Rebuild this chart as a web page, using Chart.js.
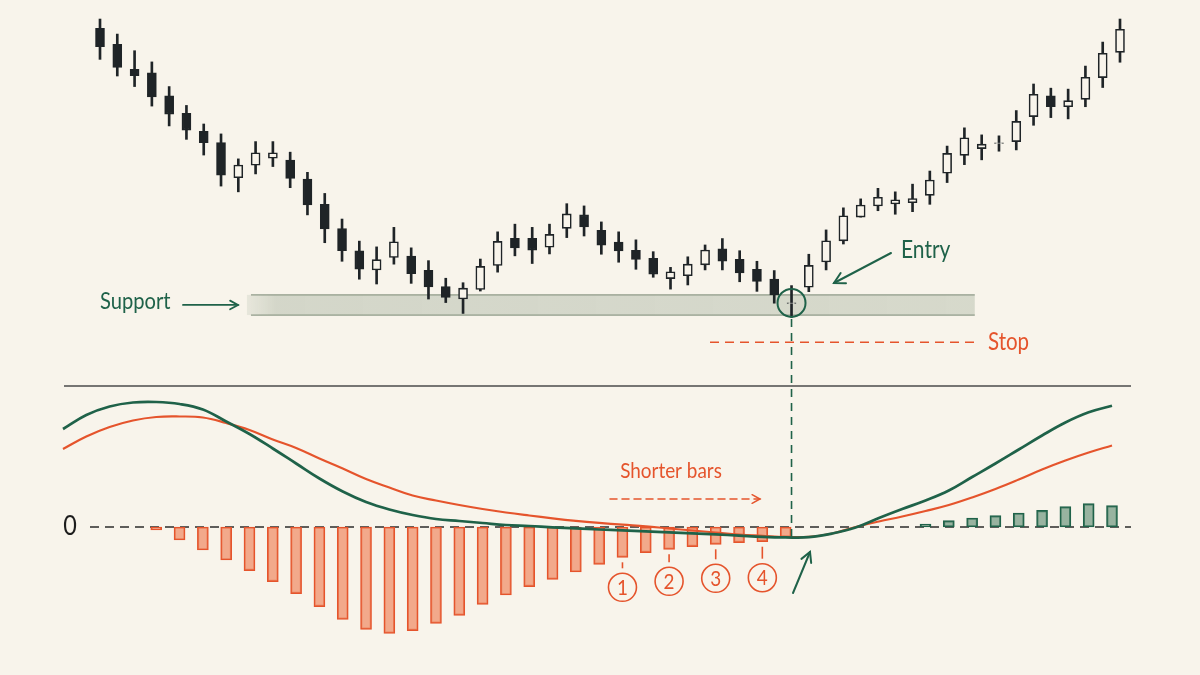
<!DOCTYPE html>
<html>
<head>
<meta charset="utf-8">
<title>Support bounce with MACD divergence</title>
<script src="https://cdn.jsdelivr.net/npm/chart.js@4.4.1/dist/chart.umd.min.js"></script>
<style>
  html, body { margin: 0; padding: 0; background: #f8f4eb; }
  #wrap { position: relative; width: 1200px; height: 675px; overflow: hidden; }
  canvas { position: absolute; left: 0; top: 0; }
</style>
</head>
<body>
<div id="wrap">
  <canvas id="macdChart" width="1200" height="675"></canvas>
  <canvas id="priceChart" width="1200" height="675"></canvas>
</div>
<script>
// Price candles (arbitrary price units 0-100)
const candleOpen = [97.4, 92.4, 84.6, 83.5, 76.3, 70.8, 65.2, 61.7, 50.7, 54.6,
  56.8, 56.2, 50.3, 42.4, 34.8, 27.9, 21.9, 25.8, 26.2, 21.8,
  16.7, 12.8, 15.8, 23.3, 31.8, 31.8, 29.0, 34.9, 39.1, 34.3,
  30.6, 28.0, 25.5, 19.2, 20.1, 23.5, 28.5, 25.2, 22.1, 19.0,
  11.4, 16.5, 24.4, 31.0, 38.4, 41.9, 42.5, 42.9, 45.2, 52.1,
  57.7, 59.8, 61.4, 62.0, 69.8, 76.3, 72.9, 75.2, 82.0, 89.9];
const candleHigh = [100.3, 95.6, 90.4, 86.9, 79.2, 73.3, 67.5, 64.4, 56.6, 62.0,
  62.0, 58.7, 52.4, 45.8, 37.8, 30.9, 29.1, 35.2, 28.8, 24.8,
  19.3, 17.9, 25.3, 33.8, 36.2, 35.2, 36.2, 42.6, 41.9, 36.9,
  33.8, 31.3, 27.6, 22.7, 26.0, 29.7, 31.7, 27.9, 24.6, 21.7,
  17.0, 26.8, 34.4, 41.3, 44.1, 47.4, 46.3, 48.7, 52.8, 60.6,
  66.3, 64.1, 63.8, 71.7, 80.0, 78.7, 78.4, 85.6, 93.1, 100.3];
const candleLow = [87.7, 82.5, 79.2, 73.1, 66.9, 62.7, 57.8, 48.1, 46.3, 51.9,
  54.2, 47.6, 39.1, 30.4, 24.6, 19.0, 17.5, 23.7, 17.7, 12.8,
  11.7, 8.3, 15.3, 21.2, 26.3, 23.9, 26.9, 32.0, 32.5, 26.8,
  24.3, 22.1, 19.6, 15.9, 17.2, 21.9, 21.9, 18.2, 15.2, 11.5,
  7.1, 15.1, 21.9, 30.0, 38.4, 40.4, 39.3, 40.1, 42.4, 49.2,
  54.8, 56.3, 59.0, 59.4, 67.1, 69.5, 69.1, 72.9, 78.9, 86.8];
const candleClose = [91.7, 85.2, 82.6, 76.0, 70.6, 65.6, 61.7, 51.5, 54.7, 58.5,
  58.5, 50.5, 42.2, 34.7, 27.9, 22.1, 25.1, 30.7, 20.7, 16.6,
  13.3, 16.2, 23.0, 30.8, 28.8, 28.1, 33.0, 39.4, 35.3, 29.6,
  27.8, 25.2, 20.6, 21.3, 23.7, 28.1, 24.6, 21.0, 18.3, 14.1,
  11.6, 23.3, 31.0, 38.8, 42.2, 44.6, 43.8, 44.2, 50.0, 58.3,
  63.2, 61.2, 61.6, 68.3, 76.8, 72.9, 74.8, 82.1, 89.6, 97.1];
const candleLabels = candleOpen.map((_, i) => "Day " + (i + 1));

const supportTop = 14.1;     // upper edge of the support zone
const supportBottom = 7.8;   // lower edge of the support zone
const stopLevel = -0.7;      // stop-loss line just under support
const entryIndex = 40;       // the doji that touches support

// MACD panel, one slot per histogram bar (slots -4..-1 only carry the lines)
const macdSlots = [-4, -3, -2, -1, 0, 1, 2, 3, 4, 5, 6, 7, 8, 9, 10, 11, 12, 13, 14, 15,
  16, 17, 18, 19, 20, 21, 22, 23, 24, 25, 26, 27, 28, 29, 30, 31, 32, 33, 34, 35,
  36, 37, 38, 39, 40, 41];
const macdLine = [0.98, 1.12, 1.205, 1.245, 1.25, 1.23, 1.175, 1.055, 0.93, 0.785,
  0.635, 0.485, 0.355, 0.25, 0.175, 0.12, 0.08, 0.06, 0.04, 0.02,
  0.01, -0.003, -0.014, -0.025, -0.033, -0.043, -0.053, -0.064, -0.074, -0.086,
  -0.098, -0.104, -0.102, -0.065, -0.005, 0.09, 0.18, 0.265, 0.365, 0.5,
  0.635, 0.775, 0.915, 1.045, 1.147, 1.212];
const signalLine = [0.78, 0.905, 1.0, 1.065, 1.1, 1.105, 1.095, 1.04, 0.97, 0.875,
  0.79, 0.685, 0.585, 0.48, 0.395, 0.315, 0.265, 0.22, 0.18, 0.145,
  0.115, 0.087, 0.062, 0.041, 0.023, 0.007, -0.015, -0.035, -0.055, -0.075,
  -0.088, -0.1, -0.098, -0.065, 0.0, 0.055, 0.105, 0.16, 0.22, 0.295,
  0.38, 0.475, 0.575, 0.665, 0.745, 0.815];
const histogram = [null, null, null, null, -0.03, -0.13, -0.23, -0.33, -0.437, -0.547,
  -0.667, -0.797, -0.923, -1.023, -1.063, -1.037, -0.963, -0.883, -0.773, -0.68,
  -0.597, -0.523, -0.45, -0.373, -0.303, -0.257, -0.223, -0.197, -0.173, -0.157,
  -0.147, -0.1, null, null, null, null, null, 0.03, 0.063, 0.09,
  0.113, 0.14, 0.167, 0.203, 0.233, 0.213];
const markedSlots = [20, 22, 24, 26]; // the four shrinking bars called out

const GREEN = "#1f6249";
const ORANGE = "#e5542c";
const INK = "#1f2427";
const PAPER = "#f8f4eb";
const FONT = "Lato, 'Open Sans', sans-serif";

// little helpers for the hand-drawn notes
function arrow(ctx, x1, y1, x2, y2, color, width, head, dash) {
  const a = Math.atan2(y2 - y1, x2 - x1);
  ctx.save();
  ctx.strokeStyle = color;
  ctx.lineWidth = width;
  ctx.lineCap = "round";
  ctx.setLineDash(dash || []);
  ctx.beginPath();
  ctx.moveTo(x1, y1);
  ctx.lineTo(x2, y2);
  ctx.stroke();
  ctx.setLineDash([]);
  ctx.beginPath();
  ctx.moveTo(x2 - head * Math.cos(a - 0.5), y2 - head * Math.sin(a - 0.5));
  ctx.lineTo(x2, y2);
  ctx.lineTo(x2 - head * Math.cos(a + 0.5), y2 - head * Math.sin(a + 0.5));
  ctx.stroke();
  ctx.restore();
}

// text is a bit narrower in the sketch, so squeeze it horizontally
function label(ctx, text, x, y, color, size, align, squeeze) {
  const sx = squeeze || 1;
  ctx.save();
  ctx.translate(x, y);
  ctx.scale(sx, 1);
  ctx.fillStyle = color;
  ctx.font = size + "px " + FONT;
  ctx.textAlign = align || "left";
  ctx.textBaseline = "middle";
  ctx.fillText(text, 0, 0);
  ctx.restore();
}

// Support zone, entry circle, stop line and the notes of the price panel
const priceNotes = {
  id: "priceNotes",
  beforeDatasetsDraw(chart) {
    const ctx = chart.ctx;
    const xs = chart.scales.x;
    const ys = chart.scales.y;
    const x1 = xs.getPixelForValue(8.5);
    const x2 = xs.getPixelForValue(50.6);
    const yTop = ys.getPixelForValue(supportTop);
    const yBot = ys.getPixelForValue(supportBottom);
    ctx.save();
    const grad = ctx.createLinearGradient(x1, 0, x2, 0);
    grad.addColorStop(0, "rgba(200,205,190,0.35)");
    grad.addColorStop(0.04, "rgba(200,205,190,0.75)");
    grad.addColorStop(1, "rgba(200,205,190,0.7)");
    ctx.fillStyle = grad;
    ctx.fillRect(x1, yTop, x2 - x1, yBot - yTop);
    ctx.strokeStyle = "rgba(120,135,115,0.8)";
    ctx.lineWidth = 1.2;
    ctx.beginPath();
    ctx.moveTo(x1 + 4, yTop);
    ctx.lineTo(x2, yTop);
    ctx.moveTo(x1 + 4, yBot);
    ctx.lineTo(x2, yBot);
    ctx.stroke();
    ctx.restore();
  },
  afterDraw(chart) {
    const ctx = chart.ctx;
    const xs = chart.scales.x;
    const ys = chart.scales.y;
    const yMid = ys.getPixelForValue((supportTop + supportBottom) / 2);

    label(ctx, "Support", 100, yMid - 4, GREEN, 24, "left", 0.84);
    arrow(ctx, 183, yMid, 238, yMid, GREEN, 1.8, 9);

    // entry doji circled, with the dashed guide down into the MACD panel
    const ex = xs.getPixelForValue(entryIndex);
    const ey = ys.getPixelForValue(candleClose[entryIndex]);
    ctx.save();
    ctx.strokeStyle = GREEN;
    ctx.lineWidth = 2;
    ctx.beginPath();
    ctx.arc(ex, ey, 14, 0, Math.PI * 2);
    ctx.stroke();
    ctx.setLineDash([8, 6]);
    ctx.lineWidth = 1.6;
    ctx.beginPath();
    ctx.moveTo(ex, ey + 16);
    ctx.lineTo(ex, 538);
    ctx.stroke();
    ctx.restore();

    label(ctx, "Entry", 901, 250, GREEN, 25, "left", 0.84);
    arrow(ctx, 891, 253, 834, 283, GREEN, 2, 12);

    // stop-loss line
    const sy = ys.getPixelForValue(stopLevel);
    ctx.save();
    ctx.strokeStyle = ORANGE;
    ctx.lineWidth = 1.6;
    ctx.setLineDash([9, 6]);
    ctx.beginPath();
    ctx.moveTo(710, sy);
    ctx.lineTo(978, sy);
    ctx.stroke();
    ctx.restore();
    label(ctx, "Stop", 988, sy, ORANGE, 25, "left", 0.82);

    // panel separator
    ctx.save();
    ctx.strokeStyle = "#4b4b4b";
    ctx.lineWidth = 1.3;
    ctx.beginPath();
    ctx.moveTo(64, 386);
    ctx.lineTo(1131, 386);
    ctx.stroke();
    ctx.restore();
  }
};

// Zero line, counted bars and notes of the MACD panel
const macdNotes = {
  id: "macdNotes",
  beforeDatasetsDraw(chart) {
    const ctx = chart.ctx;
    const zy = chart.scales.y.getPixelForValue(0);
    ctx.save();
    ctx.strokeStyle = "#2b2b2b";
    ctx.lineWidth = 1.5;
    ctx.setLineDash([9, 6]);
    ctx.beginPath();
    ctx.moveTo(90, zy);
    ctx.lineTo(1131, zy);
    ctx.stroke();
    ctx.restore();
  },
  afterDraw(chart) {
    const ctx = chart.ctx;
    const xs = chart.scales.x;
    const ys = chart.scales.y;
    label(ctx, "0", 70, ys.getPixelForValue(0), "#1d1d1d", 26, "center", 0.9);

    label(ctx, "Shorter bars", 671, 471, ORANGE, 21, "center", 0.9);
    arrow(ctx, 610, 499, 760, 499, ORANGE, 1.5, 9, [7, 5]);

    markedSlots.forEach((slot, n) => {
      const i = macdSlots.indexOf(slot);
      const x = xs.getPixelForValue(i);
      const bottom = ys.getPixelForValue(histogram[i]);
      const cy = bottom + 30 + n * 2;
      ctx.save();
      ctx.strokeStyle = ORANGE;
      ctx.lineWidth = 1.6;
      ctx.beginPath();
      ctx.moveTo(x, bottom + 5);
      ctx.lineTo(x, bottom + 11 + n * 2);
      ctx.stroke();
      ctx.beginPath();
      ctx.arc(x, cy, 14, 0, Math.PI * 2);
      ctx.stroke();
      ctx.restore();
      label(ctx, String(n + 1), x, cy + 1, ORANGE, 21, "center", 0.9);
    });

    arrow(ctx, 793, 593, 810, 552, GREEN, 2, 11);
  }
};

const bodyRanges = candleOpen.map((o, i) => [Math.min(o, candleClose[i]), Math.max(o, candleClose[i])]);
const wickRanges = candleLow.map((l, i) => [l, candleHigh[i]]);

new Chart(document.getElementById("priceChart"), {
  type: "bar",
  data: {
    labels: candleLabels,
    datasets: [
      {
        label: "Body",
        data: bodyRanges,
        backgroundColor: candleClose.map((c, i) => (c < candleOpen[i] ? INK : PAPER)),
        borderColor: INK,
        borderWidth: 1.6,
        borderSkipped: false,
        barThickness: 9,
        grouped: false,
        clip: false,
        order: 0
      },
      {
        label: "Wick",
        data: wickRanges,
        backgroundColor: INK,
        borderWidth: 0,
        barThickness: 2,
        grouped: false,
        clip: false,
        order: 1
      }
    ]
  },
  options: {
    responsive: false,
    animation: false,
    layout: { padding: { left: 100, right: 80, top: 20, bottom: 335 } },
    scales: {
      x: { display: false, offset: false },
      y: { display: false, min: 0, max: 100 }
    },
    plugins: { legend: { display: false }, tooltip: { enabled: false } }
  },
  plugins: [priceNotes]
});

new Chart(document.getElementById("macdChart"), {
  type: "bar",
  data: {
    labels: macdSlots,
    datasets: [
      {
        type: "line",
        label: "MACD",
        data: macdLine,
        borderColor: GREEN,
        borderWidth: 2.7,
        pointRadius: 0,
        tension: 0.4,
        clip: false,
        order: 0
      },
      {
        type: "line",
        label: "Signal",
        data: signalLine,
        borderColor: ORANGE,
        borderWidth: 2.2,
        pointRadius: 0,
        tension: 0.4,
        clip: false,
        order: 1
      },
      {
        label: "Histogram",
        data: histogram,
        backgroundColor: histogram.map((v) => (v < 0 ? "rgba(240,148,112,0.78)" : "rgba(100,145,120,0.65)")),
        borderColor: histogram.map((v) => (v < 0 ? ORANGE : GREEN)),
        borderWidth: 1.5,
        borderSkipped: false,
        barThickness: 11,
        clip: false,
        order: 2
      }
    ]
  },
  options: {
    responsive: false,
    animation: false,
    layout: { padding: { left: 63, right: 88, top: 387, bottom: 28 } },
    scales: {
      x: { display: false, offset: false },
      y: { display: false, min: -1.2, max: 1.4 }
    },
    plugins: { legend: { display: false }, tooltip: { enabled: false } }
  },
  plugins: [macdNotes]
});
</script>
</body>
</html>
